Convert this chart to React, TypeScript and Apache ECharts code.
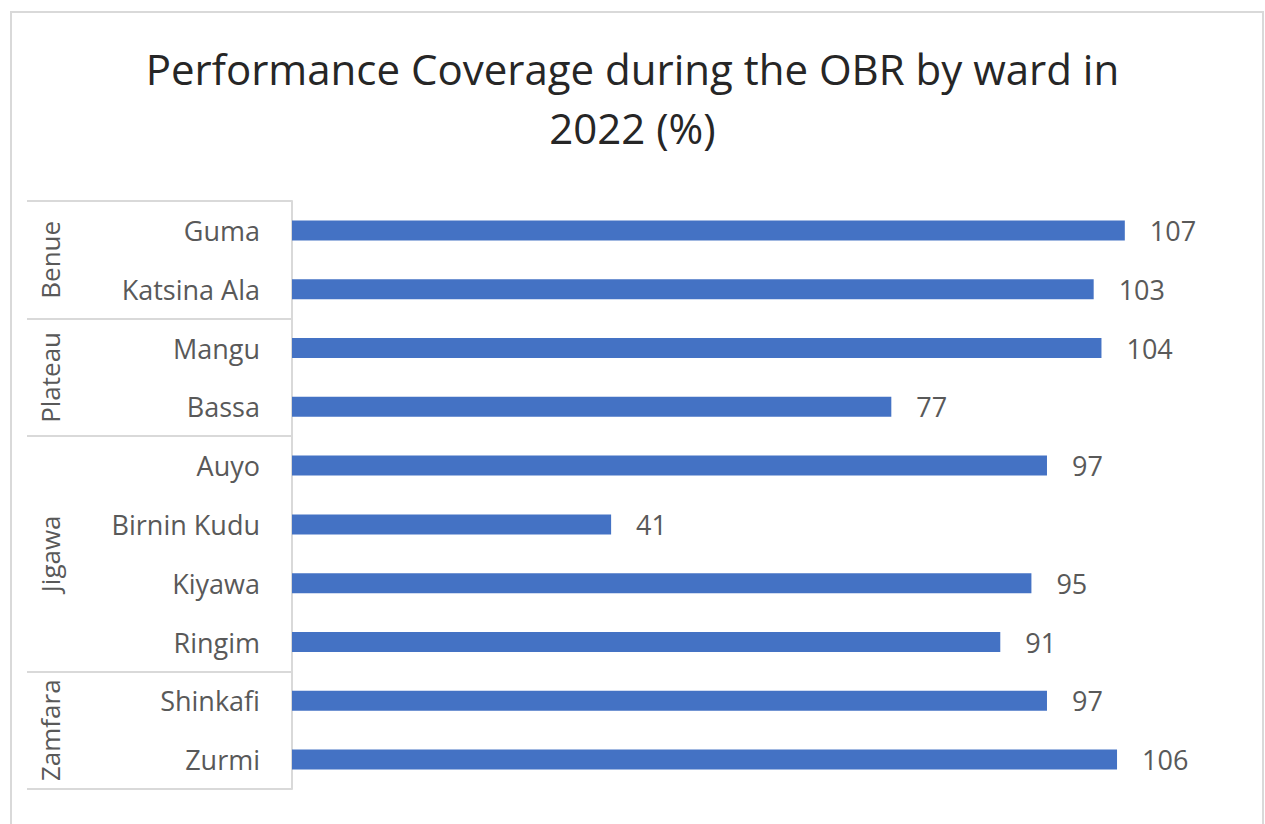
import React, { useEffect, useRef } from "react";
import * as echarts from "echarts";

const titleText = "Performance Coverage during the OBR by ward in\n2022 (%)";
const wards = ["Guma", "Katsina Ala", "Mangu", "Bassa", "Auyo", "Birnin Kudu", "Kiyawa", "Ringim", "Shinkafi", "Zurmi"];
const coverage = [107, 103, 104, 77, 97, 41, 95, 91, 97, 106];
const states = ["Benue", "Plateau", "Jigawa", "Zamfara"];
const stateSizes = [2, 2, 4, 2];

const FONT = "Open Sans";
const LINE = "#d9d9d9";
const LABEL = "#595959";

export default function App() {
  const ref = useRef<HTMLDivElement>(null);
  useEffect(() => {
    if (!ref.current) return;
    const chart = echarts.init(ref.current, null, { renderer: "svg" });
    const bounds: number[] = [0];
    const centers: number[] = [];
    stateSizes.forEach((n) => {
      const start = bounds[bounds.length - 1];
      centers.push(start + n / 2);
      bounds.push(start + n);
    });
    chart.setOption({
      animation: false,
      backgroundColor: "#ffffff",
      graphic: [
        {
          type: "rect",
          shape: { x: 11, y: 12, width: 1252, height: 840 },
          style: { fill: "none", stroke: LINE, lineWidth: 2 },
          silent: true,
        },
      ],
      title: {
        text: titleText,
        left: "center",
        top: 34,
        textStyle: {
          fontFamily: FONT,
          fontSize: 42,
          fontWeight: "normal",
          color: "#262626",
          lineHeight: 59,
        },
      },
      grid: { left: 292, top: 201, width: 934, height: 588, containLabel: false },
      xAxis: {
        type: "value",
        min: 0,
        max: 120,
        show: false,
        splitLine: { show: false },
      },
      yAxis: [
        {
          type: "category",
          data: wards,
          inverse: true,
          position: "left",
          axisLine: { show: false },
          axisTick: { show: false },
          axisLabel: { fontFamily: FONT, fontSize: 27, color: LABEL, margin: 32 },
        },
        {
          type: "value",
          min: 0,
          max: wards.length,
          inverse: true,
          position: "left",
          splitLine: { show: false },
          axisLine: { show: true, lineStyle: { color: LINE, width: 2 } },
          axisTick: {
            show: true,
            customValues: bounds,
            length: 265,
            lineStyle: { color: LINE, width: 2 },
          },
          axisLabel: {
            customValues: centers,
            rotate: 90,
            margin: 229,
            fontFamily: FONT,
            fontSize: 26,
            color: LABEL,
            formatter: (v: number) => states[centers.indexOf(v)] ?? "",
          },
        },
      ],
      series: [
        {
          type: "bar",
          yAxisIndex: 0,
          data: coverage,
          barWidth: 20,
          itemStyle: { color: "#4472C4" },
          label: {
            show: true,
            position: "right",
            distance: 25,
            fontFamily: FONT,
            fontSize: 27,
            color: LABEL,
          },
        },
      ],
    });
    return () => chart.dispose();
  }, []);
  return (
    <div
      ref={ref}
      style={{ position: "fixed", left: 0, top: 0, width: 1265, height: 824, background: "#fff" }}
    />
  );
}
